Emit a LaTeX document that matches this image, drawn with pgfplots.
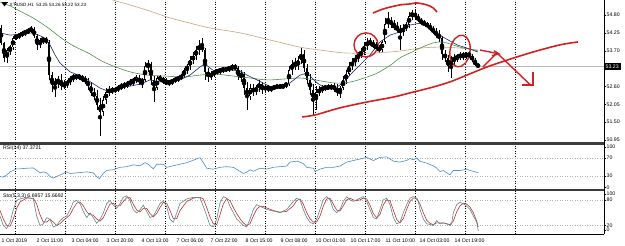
\documentclass[border=0pt]{standalone}
\usepackage{fontspec}
\setmainfont{Liberation Sans}
\usepackage{pgfplots}
\pgfplotsset{compat=1.18}
\usepackage{pgfplotstable}

\definecolor{tanma}{HTML}{C8A27A}
\definecolor{greenma}{HTML}{4E8F4E}
\definecolor{navyma}{HTML}{1F2A6B}
\definecolor{annot}{HTML}{D42020}
\definecolor{rsiblue}{HTML}{4A8CC4}
\definecolor{stok}{HTML}{5E8585}
\definecolor{stod}{HTML}{B83030}
\definecolor{sep}{HTML}{3C3C3C}
\newcommand{\lbl}{\fontsize{5.2pt}{6pt}\selectfont}

\pgfplotstableread{
x o h l c
1 54.40 54.49 53.88 53.94
4 53.94 53.97 53.35 53.48
7 53.48 53.78 53.32 53.72
10 53.72 53.88 53.57 53.81
13 53.81 54.15 53.72 54.09
16 54.09 54.21 54.03 54.15
19 54.15 54.25 54.06 54.18
22 54.18 54.31 54.12 54.25
25 54.25 54.34 54.15 54.28
28 54.28 54.40 54.21 54.31
31 54.31 54.46 54.25 54.37
34 54.37 54.43 54.09 54.15
37 54.15 54.21 53.72 53.88
40 53.88 54.09 53.78 54.03
43 54.03 54.12 53.91 54.06
46 54.06 54.12 53.91 53.97
49 53.97 54.03 52.80 52.95
52 52.95 53.05 52.43 52.64
55 52.64 52.86 52.27 52.74
58 52.74 52.92 52.55 52.80
61 52.80 52.98 52.49 52.61
64 52.61 52.80 52.52 52.67
67 52.67 52.80 52.55 52.74
70 52.74 52.92 52.64 52.86
73 52.86 52.98 52.74 52.89
76 52.89 52.98 52.80 52.92
79 52.92 52.98 52.80 52.89
82 52.89 52.95 52.74 52.83
85 52.83 52.92 52.67 52.77
88 52.77 52.86 52.49 52.61
91 52.61 52.74 52.30 52.40
94 52.40 52.55 52.18 52.30
97 52.30 52.49 51.87 52.03
100 52.03 52.24 51.07 51.81
103 51.81 52.30 51.69 52.18
106 52.18 52.55 52.06 52.43
109 52.43 52.61 52.30 52.49
112 52.49 52.58 52.37 52.46
115 52.46 52.58 52.40 52.52
118 52.52 52.64 52.43 52.55
121 52.55 52.71 52.49 52.61
124 52.61 52.74 52.52 52.64
127 52.64 52.77 52.55 52.67
130 52.67 52.83 52.61 52.74
133 52.74 52.86 52.61 52.80
136 52.80 52.95 52.71 52.86
139 52.86 52.95 52.64 52.74
142 52.74 52.86 52.55 52.80
145 52.80 53.35 52.74 53.23
148 53.23 53.41 53.05 53.29
151 53.29 53.35 52.64 52.80
154 52.80 52.92 52.12 52.55
157 52.55 52.92 52.49 52.86
160 52.86 52.95 52.74 52.83
163 52.83 52.89 52.67 52.77
166 52.77 52.86 52.64 52.71
169 52.71 52.80 52.61 52.74
172 52.74 52.83 52.64 52.77
175 52.77 52.89 52.71 52.83
178 52.83 52.92 52.74 52.86
181 52.86 52.98 52.80 52.92
184 52.92 53.17 52.86 53.11
187 53.11 53.29 52.98 53.23
190 53.23 53.54 53.11 53.41
193 53.41 53.66 53.29 53.54
196 53.54 53.85 53.41 53.72
199 53.72 54.03 53.57 53.85
202 53.85 54.09 53.66 53.72
205 53.72 53.78 52.80 53.05
208 53.05 53.17 52.74 52.92
211 52.92 53.08 52.80 52.98
214 52.98 53.11 52.89 53.05
217 53.05 53.14 52.95 53.08
220 53.08 53.17 52.98 53.11
223 53.11 53.20 53.01 53.14
226 53.11 53.20 53.05 53.14
229 53.14 53.23 53.05 53.17
232 53.17 53.29 53.08 53.20
235 53.20 53.29 53.11 53.17
238 53.17 53.23 52.80 52.92
241 52.92 53.11 52.74 52.98
244 52.98 53.05 52.34 52.55
247 52.55 52.74 51.87 52.30
250 52.30 52.67 52.18 52.55
253 52.55 52.67 52.30 52.43
256 52.43 52.64 52.34 52.58
259 52.58 52.80 52.43 52.67
262 52.67 52.74 52.37 52.49
265 52.49 52.67 52.43 52.61
268 52.61 52.64 52.43 52.52
271 52.52 52.61 52.43 52.55
274 52.55 52.64 52.49 52.58
277 52.58 52.67 52.52 52.61
280 52.61 52.67 52.52 52.58
283 52.58 52.67 52.52 52.64
286 52.64 52.74 52.55 52.67
289 52.67 53.23 52.61 53.11
292 53.11 53.41 52.95 53.29
295 53.29 53.48 53.11 53.23
298 53.23 53.54 53.11 53.41
301 53.41 53.78 53.29 53.60
304 53.60 53.72 53.05 53.17
307 53.17 53.29 52.67 52.80
310 52.80 52.98 52.34 52.49
313 52.49 52.67 51.72 52.18
316 52.18 52.61 51.87 52.43
319 52.43 52.61 52.30 52.49
322 52.49 52.64 52.40 52.55
325 52.55 52.64 52.46 52.58
328 52.58 52.67 52.49 52.55
331 52.55 52.67 52.49 52.61
334 52.61 52.71 52.43 52.52
337 52.52 52.67 52.30 52.43
340 52.43 52.61 52.24 52.55
343 52.55 52.92 52.49 52.80
346 52.80 53.11 52.67 52.98
349 52.98 53.35 52.92 53.23
352 53.23 53.48 53.11 53.35
355 53.35 53.57 53.23 53.48
358 53.48 53.66 53.35 53.57
361 53.57 53.78 53.48 53.66
364 53.66 53.97 53.57 53.85
367 53.85 54.09 53.72 53.97
370 53.97 54.09 53.85 53.91
373 53.91 54.03 53.78 53.85
376 53.85 53.97 53.72 53.78
379 53.78 53.88 53.63 53.72
382 53.72 54.03 53.66 53.97
385 53.97 54.71 53.91 54.52
388 54.52 54.89 54.40 54.65
391 54.65 54.74 54.40 54.49
394 54.49 54.65 54.34 54.43
397 54.43 54.58 54.25 54.34
400 54.34 54.49 53.72 54.28
403 54.28 54.52 54.15 54.40
406 54.40 54.58 54.31 54.49
409 54.49 54.89 54.40 54.77
412 54.77 54.95 54.65 54.86
415 54.86 54.95 54.65 54.74
418 54.74 54.83 54.58 54.65
421 54.65 54.71 54.49 54.55
424 54.55 54.65 54.46 54.52
427 54.52 54.58 54.40 54.46
430 54.46 54.55 54.31 54.37
433 54.37 54.46 54.21 54.28
436 54.28 54.40 54.09 54.18
439 54.18 54.34 53.97 54.09
442 54.09 54.15 53.41 53.60
445 53.60 53.72 53.35 53.48
448 53.48 53.57 53.05 53.23
451 53.23 53.54 52.86 53.41
454 53.41 53.60 53.23 53.48
457 53.48 53.60 53.35 53.51
460 53.51 53.66 53.41 53.57
463 53.57 53.66 53.41 53.54
466 53.54 53.66 53.45 53.60
469 53.60 53.69 53.48 53.54
472 53.54 53.60 53.35 53.41
475 53.41 53.48 53.24 53.25
478 53.25 53.26 53.22 53.23
}\candles

\pgfplotsset{
  panel/.style={
    scale only axis, anchor=south west, width=604pt,
    xmin=0, xmax=604, clip=true,
    axis line style={draw=none},
    xtick={15,65,...,515}, xticklabels={}, xtick style={draw=none},
    xmajorgrids, major grid style={black, line width=0.45pt, dash pattern=on 0.9pt off 1.6pt},
    ytick pos=right, yticklabel pos=right, tick align=outside,
    ytick style={black, line width=0.4pt}, major tick length=2pt,
    yticklabel style={font=\lbl, inner sep=0pt, anchor=west, xshift=0.5pt},
  },
}

\begin{document}
\begin{tikzpicture}[x=1pt,y=1pt]
\path[use as bounding box] (0,0) rectangle (625,246);

% ---------------- price panel ----------------
\begin{axis}[panel, at={(0pt,103.5pt)}, height=142.5pt,
  ymin=50.873, ymax=55.262,
  ytick={54.80,54.25,53.70,52.60,52.05,51.50,50.95},
  yticklabels={54.80,54.25,53.70,52.60,52.05,51.50,50.95}]
\addplot[gray!55, line width=0.5pt] coordinates {(0,53.23) (604,53.23)};
% wicks
\addplot[only marks, mark=none, error bars/.cd, y dir=both, y explicit, error mark=none,
  error bar style={line width=0.55pt, black}]
  table[x=x, y expr={(\thisrow{h}+\thisrow{l})/2}, y error expr={(\thisrow{h}-\thisrow{l})/2}] {\candles};
% bodies
\addplot[only marks, mark=none, error bars/.cd, y dir=both, y explicit, error mark=none,
  error bar style={line width=1.5pt, black}]
  table[x=x, y expr={(\thisrow{o}+\thisrow{c})/2}, y error expr={max(abs(\thisrow{o}-\thisrow{c})/2,0.012)}] {\candles};
% bullish bodies hollow
\addplot[only marks, mark=none, error bars/.cd, y dir=both, y explicit, error mark=none,
  error bar style={line width=0.6pt, white}]
  table[x=x, y expr={(\thisrow{o}+\thisrow{c})/2}, y error expr={\thisrow{c}>\thisrow{o} ? max((\thisrow{c}-\thisrow{o})/2-0.02,0) : 0}] {\candles};
% moving averages
\addplot[tanma, line width=0.6pt, smooth] coordinates {(100,55.42) (113,55.26) (130,55.11) (150,54.92) (170,54.71) (190,54.55) (210,54.40) (240,54.25) (270,54.03) (300,53.81) (320,53.72) (345,53.63) (373,53.63) (400,53.69) (420,53.78) (440,53.81) (460,53.78) (478,53.72)};
\addplot[greenma, line width=0.6pt, smooth] coordinates {(0,55.20) (10,55.08) (20,54.92) (33,54.71) (47,54.43) (60,54.12) (70,53.91) (80,53.75) (90,53.60) (100,53.41) (113,53.23) (130,53.05) (147,52.95) (165,52.92) (183,52.89) (200,52.95) (215,52.98) (233,52.92) (250,52.86) (267,52.80) (285,52.83) (300,52.86) (315,52.80) (333,52.71) (345,52.71) (355,52.77) (367,52.89) (375,52.98) (383,53.11) (392,53.29) (400,53.48) (410,53.63) (420,53.78) (433,53.94) (442,53.97) (450,53.91) (460,53.81) (470,53.75) (478,53.69)};
\addplot[navyma, line width=0.6pt] coordinates {(0,54.25) (10,54.18) (20,54.21) (33,54.25) (43,54.12) (50,53.88) (55,53.57) (60,53.32) (70,53.05) (83,52.89) (92,52.71) (100,52.55) (110,52.43) (120,52.55) (130,52.61) (140,52.67) (150,52.80) (160,52.74) (170,52.77) (180,52.80) (190,52.95) (200,53.20) (205,53.29) (210,53.17) (215,53.05) (230,53.11) (240,53.08) (247,52.95) (257,52.80) (273,52.55) (283,52.58) (290,52.71) (300,52.95) (307,53.01) (312,52.86) (317,52.71) (325,52.55) (337,52.58) (343,52.71) (353,53.05) (363,53.35) (370,53.57) (380,53.97) (390,54.18) (400,54.28) (410,54.49) (420,54.55) (433,54.34) (443,54.12) (457,53.88) (467,53.78) (478,53.66)};
% hand-drawn annotations
\addplot[annot, line width=1.6pt, smooth] coordinates {(302,51.66) (315,51.72) (340,51.94) (367,52.12) (393,52.27) (410,52.40) (433,52.58) (450,52.74) (467,52.95) (487,53.20) (507,53.41) (533,53.66) (560,53.88) (578,53.97)};
\addplot[annot, line width=1.6pt, smooth] coordinates {(373,54.86) (380,54.95) (387,55.02) (400,55.11) (410,55.14) (417,55.17) (427,55.11) (433,55.02) (437,54.89)};
\addplot[annot, line width=1.4pt, smooth] coordinates {(480,53.72) (490,53.66) (499,53.60)};
\addplot[annot, line width=1.4pt] coordinates {(494,53.70) (499,53.60) (492,53.55)};
\addplot[annot, line width=1.4pt] coordinates {(483,53.20) (497,53.63) (530,52.66)};
\addplot[annot, line width=1.4pt] coordinates {(522,52.64) (533,52.64) (533,53.04)};
\draw[annot, line width=1.4pt] (axis cs:366,53.88) ellipse [x radius=12pt, y radius=12pt];
\draw[annot, line width=1.4pt, rotate around={-10:(axis cs:460,53.69)}] (axis cs:460,53.69) ellipse [x radius=10pt, y radius=16pt];
\end{axis}

% ---------------- RSI panel ----------------
\begin{axis}[panel, at={(0pt,56.7pt)}, height=44.6pt,
  ymin=0, ymax=100, ytick={4.5,30,70,95.5}, yticklabels={0,30,70,100}]
\draw[gray!60, line width=0.45pt, dash pattern=on 0.9pt off 1.6pt] (axis cs:0,70) -- (axis cs:604,70);
\draw[gray!60, line width=0.45pt, dash pattern=on 0.9pt off 1.6pt] (axis cs:0,30) -- (axis cs:604,30);
\addplot[rsiblue, line width=0.6pt] coordinates {(0,28.6) (3.3,27.2) (6.7,32.1) (10,39.0) (13.3,42.4) (16.7,45.9) (20,45.9) (26.7,47.2) (33.3,47.9) (36.7,42.4) (40,36.9) (43.3,39.0) (46.7,36.9) (50,28.6) (53.3,25.2) (56.7,28.6) (60,32.1) (63.3,35.5) (66.7,39.0) (70,35.5) (76.7,36.9) (86.7,39.0) (93.3,36.9) (96.7,28.6) (99.3,23.8) (103.3,35.5) (106.7,42.4) (113.3,43.8) (120,49.3) (126.7,50.7) (133.3,54.8) (140,52.8) (145,59.7) (148.3,56.2) (153.3,45.9) (156.7,56.2) (163.3,56.2) (166.7,49.3) (173.3,52.8) (180,56.2) (186.7,59.7) (193.3,65.2) (200,71) (203.3,60) (206.7,47.2) (213.3,45.2) (220,49.3) (226.7,50.7) (233.3,49.3) (240,40.3) (243.3,35.5) (246.7,38.3) (250,43.8) (253.3,40.3) (260,47.2) (266.7,45.2) (273.3,49.3) (280,50.7) (286.7,52.1) (290,61.0) (296.7,63.1) (300,61.0) (303.3,57.6) (306.7,49.3) (313.3,47.2) (315,40.3) (320,45.2) (326.7,49.3) (333.3,49.3) (340,52.1) (346.7,61.0) (353.3,64.5) (360,67.9) (366.7,71.4) (373.3,64.5) (380,71.4) (386.7,72.8) (393.3,63.1) (400,61) (406.7,64.7) (410,69) (413.3,66.2) (416.7,70) (420,62.5) (426.7,58.7) (433.3,52.6) (436.7,47.4) (440,39.8) (443.3,42.1) (450,32.3) (453.3,42.1) (460,42.1) (466.7,45.1) (470,42.1) (478.3,37.4)};
\node[font=\lbl, anchor=west, inner sep=0pt] at (rel axis cs:0.005,0.92) {RSI(14) 37.3721};
\end{axis}

% ---------------- Stochastic panel ----------------
\begin{axis}[panel, at={(0pt,12pt)}, height=42.7pt,
  ymin=0, ymax=100, ytick={9.4,20,80,93.7}, yticklabels={0,20,80,100},
  extra x ticks={1,36,71,106,141,176,210,245,280,315,350,385,419,454},
  extra x tick labels={1 Oct 2019,2 Oct 11:00,3 Oct 04:00,3 Oct 20:00,4 Oct 13:00,7 Oct 06:00,7 Oct 22:00,8 Oct 15:00,9 Oct 08:00,10 Oct 01:00,10 Oct 17:00,11 Oct 10:00,14 Oct 03:00,14 Oct 19:00},
  extra x tick style={grid=none, xticklabel style={font=\lbl, anchor=north west, inner sep=0pt, yshift=-2.6pt, xshift=0.5pt}}]
\draw[gray!60, line width=0.45pt, dash pattern=on 0.9pt off 1.6pt] (axis cs:0,80) -- (axis cs:604,80);
\draw[gray!60, line width=0.45pt, dash pattern=on 0.9pt off 1.6pt] (axis cs:0,20) -- (axis cs:604,20);
\addplot[stod, line width=0.6pt] coordinates {(0,55) (3.3,35) (6.7,20) (10,18) (13.3,35) (16.7,60) (20,75) (26.7,84) (33.3,84) (36.7,70) (40,45) (43.3,28) (46.7,28) (50,34) (53.3,28) (56.7,20) (60,24) (63.3,32) (66.7,38) (70,45) (73.3,60) (76.7,72) (80,75) (83.3,66) (86.7,52) (90,45) (93.3,44) (96.7,35) (100,30) (103.3,38) (106.7,55) (110,70) (113.3,72) (116.7,66) (120,66) (123.3,76) (126.7,85) (130,85) (133.3,70) (136.7,56) (140,52) (143.3,60) (146.7,60) (150,48) (153.3,40) (156.7,48) (160,62) (163.3,74) (166.7,72) (170,55) (173.3,36) (176.7,36) (180,55) (186.7,76) (193.3,84) (200,86) (203.3,82) (206.7,62) (210,40) (213.3,24) (216.7,22) (220,45) (223.3,70) (226.7,83) (230,78) (233.3,62) (236.7,48) (240,36) (243.3,26) (246.7,20) (250,24) (253.3,42) (256.7,58) (260,65) (263.3,65) (266.7,61) (273.3,55) (280,51) (286.7,53) (293.3,66) (296.7,78) (300,82) (303.3,70) (306.7,50) (310,36) (313.3,28) (316.7,28) (320,42) (323.3,65) (326.7,82) (330,84) (333.3,70) (336.7,56) (340,54) (343.3,66) (346.7,80) (350,84) (353.3,80) (356.7,78) (360,80) (363.3,84) (366.7,82) (370,68) (373.3,48) (376.7,38) (380,46) (383.3,68) (386.7,80) (390,78) (393.3,56) (396.7,34) (400,26) (403.3,36) (406.7,58) (410,76) (413.3,84) (416.7,84) (420,70) (423.3,50) (426.7,32) (430,25) (433.3,22) (436.7,26) (440,26) (443.3,26) (446.7,24) (450,22) (453.3,30) (456.7,52) (460,66) (463.3,72) (466.7,70) (470,63) (473.3,50) (476.7,30) (478.3,16)};
\addplot[stok, line width=0.6pt] coordinates {(0,42) (3.3,20) (6.7,12.7) (10,27.3) (13.3,56.6) (16.7,78.5) (20,82.2) (26.7,85.9) (33.3,82.2) (36.7,42) (40,20) (43.3,23.7) (46.7,38.3) (50,34.6) (53.3,16.3) (56.7,20) (60,31) (63.3,38.3) (66.7,42) (70,56.6) (73.3,74.9) (76.7,78.5) (80,71.2) (83.3,52.9) (86.7,38.3) (90,49.3) (93.3,38.3) (96.7,25.1) (100,34.6) (103.3,49.3) (106.7,71.2) (110,78.5) (113.3,67.6) (116.7,60.2) (120,71.2) (123.3,85.9) (126.7,89.5) (130,78.5) (133.3,56.6) (136.7,49.3) (140,56.6) (143.3,67.6) (146.7,52.9) (150,38.3) (153.3,42) (156.7,56.6) (160,71.2) (163.3,78.5) (166.7,63.9) (170,34.6) (173.3,27.3) (176.7,49.3) (180,71.2) (186.7,82.2) (193.3,85.9) (200,84.5) (203.3,65) (206.7,42.5) (210,20) (213.3,16.3) (216.7,35) (220,72.5) (223.3,87.5) (226.7,83.8) (230,65) (233.3,50) (236.7,35) (240,27.5) (243.3,20) (246.7,16.3) (250,35) (253.3,57.5) (256.7,68.8) (260,65) (263.3,61.3) (266.7,57.5) (273.3,53.8) (280,50) (286.7,57.5) (293.3,76.3) (296.7,83.8) (300,80) (303.3,57.5) (306.7,38.8) (310,27.5) (313.3,23.8) (316.7,35) (320,57.5) (323.3,80) (326.7,87.5) (330,80) (333.3,57.5) (336.7,50) (340,57.5) (343.3,76.3) (346.7,87.5) (350,80) (353.3,76.3) (356.7,80) (360,83.8) (363.3,87.5) (366.7,76.3) (370,57.5) (373.3,38.8) (376.7,35) (380,57.5) (383.3,80) (386.7,83.8) (390,68.8) (393.3,38.8) (396.7,23.8) (400,27.5) (403.3,50) (406.7,68.8) (410,83.8) (413.3,87.5) (415,86) (418.3,76.3) (420,57.5) (423.3,35) (426.7,23.8) (430,22.3) (433.3,20) (436.7,31.3) (440,23.8) (443.3,26) (446.7,23.8) (450,20) (451.7,23.8) (453.3,50) (456.7,68.8) (460,74) (463.3,71) (466.7,65) (470,57.5) (473.3,42.5) (476.7,27.5) (478.3,7)};
\node[font=\lbl, anchor=west, inner sep=0pt] at (rel axis cs:0.005,0.89) {Sto(5,3,3) 6.6957 15.6692};
\end{axis}

% ---------------- frame, separators, labels ----------------
\fill[sep] (0,101.3) rectangle (604,103.5);
\fill[sep] (0,54.7) rectangle (604,56.7);
\draw[black, line width=0.7pt] (604,12) -- (604,246);
\draw[black, line width=0.7pt] (0,12) -- (604.35,12);
\fill[black] (604.3,175.5) rectangle (621,182.5);
\node[font=\lbl, text=white, anchor=west, inner sep=0pt] at (605.5,179) {53.23};
\fill[black] (2,243) -- (7,243) -- (4.5,239.5) -- cycle;
\draw[black, line width=0.5pt] (1.5,243.3) -- (7.5,243.3);
\node[font=\fontsize{4.6pt}{5.5pt}\selectfont, anchor=west, inner sep=0pt] at (9.5,241) {XTIUSD,H1\ \ 53.25 53.26 53.22 53.23};
\end{tikzpicture}
\end{document}
